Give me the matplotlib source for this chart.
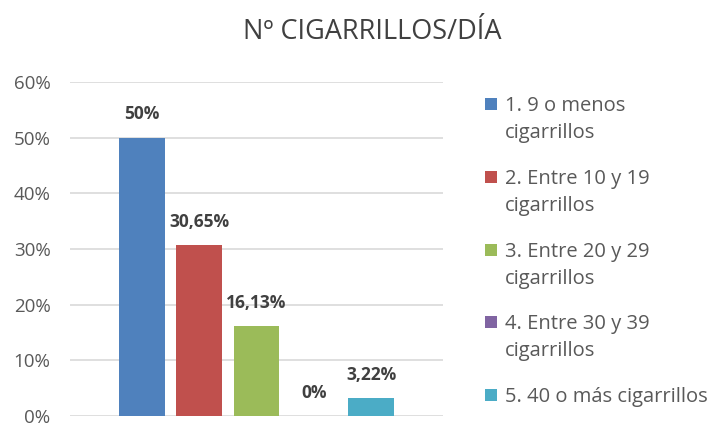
import matplotlib.pyplot as plt
import matplotlib.ticker as ticker
from matplotlib.patches import Rectangle

plt.rcParams["font.family"] = ["Open Sans", "DejaVu Sans"]

# datos
categorias = ["1. 9 o menos\ncigarrillos",
              "2. Entre 10 y 19\ncigarrillos",
              "3. Entre 20 y 29\ncigarrillos",
              "4. Entre 30 y 39\ncigarrillos",
              "5. 40 o más cigarrillos"]
valores = [50, 30.65, 16.13, 0, 3.22]
etiquetas = ["50%", "30,65%", "16,13%", "0%", "3,22%"]
colores = ["#4f81bd", "#c0504d", "#9bbb59", "#8064a2", "#4bacc6"]

W, H = 717, 424
fig = plt.figure(figsize=(W / 100, H / 100), dpi=100)
ax = fig.add_axes([70 / W, 1 - 416 / H, 373 / W, 334 / H])

x_pos = range(len(valores))
bars = ax.bar(x_pos, valores, width=0.8, color=colores, zorder=3)

for i, b in enumerate(bars):
    ax.text(b.get_x() + b.get_width() / 2, valores[i] + 4.2, etiquetas[i],
            ha="center", va="center", fontsize=12.5, fontweight="bold", color="#404040")

ax.set_xlim(-1.255, 5.255)
ax.set_ylim(0, 60)
ax.yaxis.set_major_locator(ticker.MultipleLocator(10))
ax.yaxis.set_major_formatter(ticker.FuncFormatter(lambda v, p: "{:d}%".format(int(v))))
ax.tick_params(axis="y", length=0, labelsize=13.5, labelcolor="#595959", pad=14)
ax.set_xticks([])
ax.grid(axis="y", color="#d9d9d9", linewidth=1.2, zorder=0)
for s in ax.spines.values():
    s.set_visible(False)

fig.text(372 / W, 1 - 32 / H, "Nº CIGARRILLOS/DÍA", ha="center", va="center",
         fontsize=19.5, color="#404040")

# leyenda a mano (cuadro alineado con la primera linea)
for i, (c, lab) in enumerate(zip(colores, categorias)):
    yc = 104 + 72.8 * i
    fig.patches.append(Rectangle((485 / W, 1 - (yc + 6) / H), 12 / W, 12 / H,
                                 transform=fig.transFigure, facecolor=c, edgecolor="none"))
    for j, linea in enumerate(lab.split("\n")):
        fig.text(505 / W, 1 - (yc + 7 + 27 * j) / H, linea, ha="left", va="baseline",
                 fontsize=14.5, color="#595959")

fig.savefig("out.png", dpi=100)
